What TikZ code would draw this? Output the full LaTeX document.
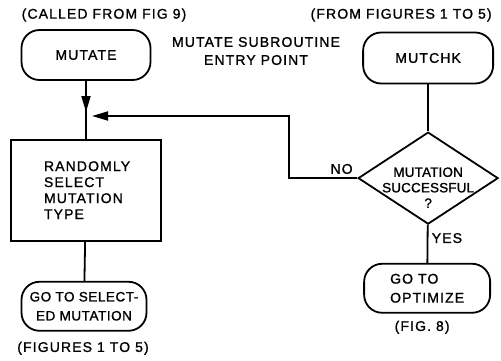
\documentclass[tikz,border=0pt]{standalone}
\usepackage{fontspec}
\setmainfont{Liberation Sans}[LetterSpace=8, FakeBold=1.2]
\usetikzlibrary{shapes, arrows, arrows.meta, positioning}
\newcommand{\lettering}{\fontsize{14pt}{16pt}\selectfont}
\tikzstyle{terminal} = [rectangle, rounded corners=18pt, minimum width=129pt, minimum height=50pt, align=center, draw=black, line width=1.8pt]
\tikzstyle{process}  = [rectangle, minimum width=150pt, minimum height=101pt, align=left, text width=84pt, draw=black, line width=1.8pt]
\tikzstyle{decision} = [diamond, minimum width=140pt, minimum height=92pt, inner sep=0pt, draw=black, line width=1.8pt]
\tikzstyle{line}     = [line width=1.8pt]
\tikzstyle{arrow}    = [line width=1.8pt, -{Triangle[length=16pt,width=9pt]}]

\begin{document}
\begin{tikzpicture}[x=1pt, y=-1pt, node distance=2.5cm, every node/.style={font=\lettering}]
        \useasboundingbox (0,0) rectangle (501,360);

        \node (mutate)  [terminal] at (86,55) {MUTATE};
        \node (select)  [process, below of=mutate, yshift=-64pt] {RANDOMLY\\SELECT\\MUTATION\\TYPE};
        \node (gosel)   [terminal, below of=select, yshift=-45pt, xshift=-2pt, minimum width=125pt, minimum height=49pt, font=\fontsize{13.5pt}{19pt}\selectfont\addfontfeatures{LetterSpace=4}] {GO TO SELECT-\\ED MUTATION};
        \node (mutchk)  [terminal, right of=mutate, xshift=271pt, yshift=-3pt, minimum width=130pt, minimum height=51pt] {MUTCHK};
        \node (check)   [decision, below of=mutchk, yshift=-49pt, label={[yshift=-9.5pt, align=center, font=\fontsize{13.5pt}{15.5pt}\selectfont\addfontfeatures{LetterSpace=1}]center:MUTATION\\SUCCESSFUL\\?}] {};
        \node (optim)   [terminal, below of=check, yshift=-39pt, xshift=-1pt, minimum width=126pt, minimum height=49pt, align=left, font=\fontsize{14pt}{19pt}\selectfont] {GO TO\\OPTIMIZE};

        % notes round the chart
        \node (calledfrom) [above of=mutate, node distance=40pt, xshift=18pt] {(CALLED FROM FIG 9)};
        \node (entry)      [right of=mutate, node distance=170pt, yshift=4pt, align=center, font=\fontsize{14pt}{18pt}\selectfont] {MUTATE SUBROUTINE\\ENTRY POINT};
        \node (fromfigs)   [above of=mutchk, node distance=43pt, xshift=-27pt] {(FROM FIGURES 1 TO 5)};
        \node (tofigs)     [below of=gosel, node distance=42pt, xshift=-1pt] {(FIGURES 1 TO 5)};
        \node (tofig)      [below of=optim, node distance=39pt, xshift=-5pt] {(FIG. 8)};

        \coordinate (join) at (86,116);

        \draw [line] (mutate) -- (select);
        \draw [arrow, shorten >=4pt] (mutate) -- (join);
        \draw [line] (select) -- (gosel);
        \draw [line] (mutchk) -- (check);
        \draw [arrow, shorten >=6pt] (check.west) -- node[above, pos=0.23] {NO} ++(-68,0) |- (join);
        \draw [line] (check) -- node[right, pos=0.35] {YES} (optim);
    \end{tikzpicture}
\end{document}
